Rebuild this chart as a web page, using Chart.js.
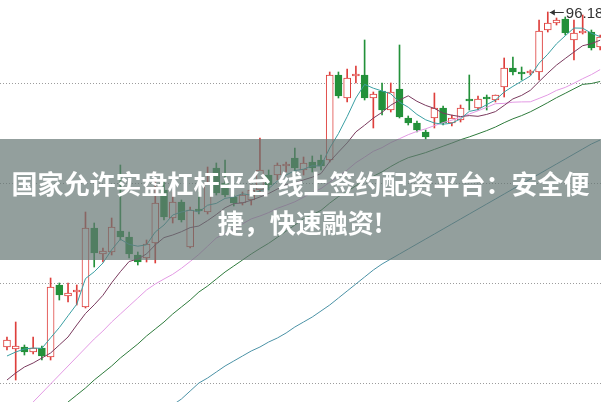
<!DOCTYPE html>
<html><head><meta charset="utf-8">
<script src="https://cdn.jsdelivr.net/npm/chart.js@4.4.0/dist/chart.umd.min.js"></script>
<style>
html,body{margin:0;padding:0;background:#fff;}
#wrap{position:relative;width:601px;height:402px;overflow:hidden;}
#c{position:absolute;left:0;top:0;}
#banner{position:absolute;left:0;top:139px;width:601px;height:121px;background:rgba(101,118,116,0.7);color:#fff;
font-family:"Noto Sans CJK SC","Noto Sans",sans-serif;font-weight:700;font-size:26px;line-height:39px;text-align:center;
box-sizing:border-box;padding-top:24px;white-space:nowrap;}
</style></head>
<body>
<div id="wrap">
<canvas id="c" width="601" height="402"></canvas>
<div id="banner"><div>国家允许实盘杠杆平台 线上签约配资平台：安全便</div><div>捷，快速融资!</div></div>
</div>
<script>
const OPEN=[62.68,62.48,62.68,62.18,62.58,61.68,68.88,67.78,68.18,66.68,
74.58,71.98,72.18,74.28,73.68,71.88,71.58,73.08,78.38,75.58,
77.18,72.68,76.48,76.18,80.58,79.08,77.68,77.08,77.38,78.38,
79.88,79.88,80.78,81.58,80.38,81.18,81.38,81.38,89.88,87.58,
89.78,89.88,87.58,88.28,86.38,88.48,85.58,85.08,84.18,85.58,
86.58,85.08,85.38,87.48,86.58,87.68,87.38,88.68,90.58,90.18,
90.08,90.18,94.38,95.08,95.48,93.38,94.08,94.18,92.68];
const HIGH=[63.68,65.18,62.88,63.68,62.78,69.58,69.08,69.08,68.88,76.18,
75.08,72.58,75.58,80.88,74.18,72.18,73.38,79.38,79.18,78.18,
77.38,76.68,78.18,80.68,81.08,81.38,77.88,78.18,78.88,83.58,
80.38,81.08,81.18,82.58,81.68,81.78,81.88,90.18,90.18,90.48,
90.78,93.38,88.18,89.08,89.08,92.88,85.78,85.28,84.38,88.08,
86.78,85.88,86.88,89.88,87.78,87.88,87.88,91.58,91.68,90.68,
90.38,95.38,96.18,95.58,95.68,95.38,95.88,94.38,93.88];
const LOW=[62.38,59.38,61.88,61.98,61.38,61.38,67.38,67.18,66.88,66.58,
70.68,71.18,71.88,73.38,71.58,70.88,71.18,71.08,75.38,75.08,
75.18,72.58,75.98,75.98,77.88,77.68,76.78,76.88,76.88,77.88,
78.38,79.38,80.18,80.18,79.88,80.18,80.38,81.18,87.58,87.18,
89.08,87.38,84.58,85.88,86.18,85.58,84.88,84.18,83.48,84.58,
84.88,84.78,85.18,86.38,86.38,86.38,87.18,87.68,89.88,89.38,
89.88,89.38,94.18,94.88,93.88,91.38,93.98,92.38,92.38];
const CLOSE=[63.38,62.78,62.18,62.58,61.78,68.68,67.88,68.08,68.38,74.58,
72.08,72.28,74.68,73.68,71.98,71.18,72.98,77.08,75.68,77.18,
75.38,76.38,76.28,79.08,78.08,77.88,77.08,77.88,78.38,80.38,
78.88,80.88,80.98,80.58,81.08,80.58,80.78,89.88,87.78,89.58,
89.98,87.58,87.98,86.38,88.18,85.68,85.08,84.38,83.68,86.58,
85.08,85.58,86.58,87.28,87.48,87.48,87.88,90.58,90.18,89.98,
90.28,94.28,95.08,95.38,94.08,94.08,94.28,92.58,93.68];
const MA5=[61.78,62.18,62.48,62.58,62.54,63.60,64.62,65.80,66.96,69.52,
70.20,71.08,72.40,73.46,72.94,72.76,72.90,74.18,74.88,75.88,
76.18,76.38,76.18,76.86,77.04,77.54,77.68,78.00,77.86,78.32,
78.52,79.28,79.88,80.32,80.46,80.80,80.78,82.58,84.02,85.72,
87.58,88.94,88.56,88.28,88.00,87.16,86.66,85.94,85.40,85.08,
84.96,85.06,85.50,86.24,86.42,86.92,87.38,88.18,88.74,89.26,
89.78,91.06,91.96,93.00,93.80,94.58,94.56,94.06,93.72];
const MA10=[59.38,60.08,60.68,61.08,61.58,62.08,62.88,63.68,64.88,66.03,
66.90,67.85,69.10,70.21,71.23,71.48,71.99,72.89,73.62,73.88,
74.21,74.62,74.78,75.32,75.93,76.60,77.01,77.09,77.36,77.68,
78.03,78.48,78.94,79.09,79.39,79.66,80.03,81.23,82.17,83.09,
84.19,84.86,85.57,86.15,86.86,87.37,87.80,87.25,86.84,86.54,
86.06,85.86,85.72,85.82,85.75,85.94,86.22,86.84,87.49,87.84,
88.35,89.22,90.07,90.87,91.53,92.18,92.81,93.01,93.36];
const MA20=[54.88,55.68,56.38,57.18,58.08,58.98,59.88,60.78,61.68,62.58,
63.48,64.28,65.18,65.98,66.78,67.58,68.38,68.98,69.48,69.95,
70.55,71.23,71.94,72.76,73.58,74.04,74.50,74.99,75.49,75.78,
76.12,76.55,76.86,77.20,77.66,78.13,78.52,79.16,79.76,80.38,
81.11,81.67,82.25,82.62,83.12,83.51,83.91,84.24,84.50,84.81,
85.12,85.36,85.64,85.98,86.30,86.65,87.01,87.04,87.16,87.19,
87.20,87.54,87.89,88.34,88.64,89.06,89.51,89.92,90.42];
const MA30=[51.88,52.78,53.58,54.28,54.98,55.68,56.38,57.18,57.88,58.58,
59.38,60.08,60.78,61.58,62.28,62.98,63.78,64.48,65.18,65.98,
66.68,67.38,68.18,68.78,69.48,70.18,70.78,71.38,71.98,72.53,
73.05,73.65,74.27,74.87,75.52,75.91,76.34,77.07,77.72,78.22,
78.81,79.32,79.76,80.19,80.73,81.21,81.61,81.86,82.12,82.44,
82.76,83.07,83.41,83.69,84.00,84.32,84.68,85.11,85.50,85.82,
86.20,86.65,87.12,87.61,88.05,88.50,88.94,89.03,89.23];
const MA60=[null,null,null,null,null,null,null,null,null,null,
null,null,null,null,null,null,54.78,55.48,56.18,56.88,
57.48,58.28,59.08,59.58,60.18,60.78,61.28,61.78,62.28,62.68,
63.18,63.58,64.08,64.68,65.18,65.68,66.28,66.88,67.58,68.28,
68.98,69.68,70.38,70.98,71.48,71.98,72.48,72.98,73.48,73.98,
74.48,74.98,75.48,75.98,76.48,76.98,77.48,77.98,78.48,78.98,
79.48,79.98,80.48,80.98,81.48,81.98,82.48,82.98,83.38];
const GRID_VALUES=[89.08,79.08,69.08,59.08];
const Y_MIN=57.18, Y_MAX=97.38;
const X_MIN=-0.8, X_MAX=68.1;
const PEAK_INDEX=62, PEAK_LABEL='96.18';

const UP='#de3f3c', DOWN='#23913a';
const isUp=i=>CLOSE[i]>=OPEN[i];
const pts=arr=>arr.map((v,i)=>({x:i,y:v}));

const peakLabel={id:'peakLabel',afterDraw(chart){
  const xs=chart.scales.x, ys=chart.scales.y, ctx=chart.ctx;
  const px=xs.getPixelForValue(PEAK_INDEX), py=Math.round(ys.getPixelForValue(HIGH[PEAK_INDEX]))+0.5;
  ctx.save();
  ctx.strokeStyle='#333';ctx.fillStyle='#333';ctx.lineWidth=1;
  ctx.beginPath();ctx.moveTo(px+2,py);ctx.lineTo(px+16,py);ctx.stroke();
  ctx.beginPath();ctx.moveTo(px+2,py);ctx.lineTo(px+7,py-3);ctx.lineTo(px+7,py+3);ctx.closePath();ctx.fill();
  ctx.font='15px "Liberation Sans", Arial, sans-serif';ctx.textBaseline='middle';ctx.textAlign='left';
  ctx.fillText(PEAK_LABEL,px+18,py+1);
  ctx.restore();
}};

const line=(data,color)=>({type:'line',data:pts(data),borderColor:color,borderWidth:1,pointRadius:0,tension:0,spanGaps:false});

new Chart(document.getElementById('c'),{
  type:'bar',
  data:{datasets:[
    line(MA5,'#3a9fa3'),
    line(MA10,'#7a3a5e'),
    line(MA20,'#e39ae4'),
    line(MA30,'#2e7b3c'),
    line(MA60,'#4b92a6'),
    {type:'bar',data:OPEN.map((o,i)=>({x:i,y:[o,CLOSE[i]]})),
     backgroundColor:OPEN.map((o,i)=>isUp(i)?'#ffffff':DOWN),
     borderColor:OPEN.map((o,i)=>isUp(i)?UP:DOWN),
     borderWidth:1,borderSkipped:false,barThickness:7,grouped:false},
    {type:'bar',data:LOW.map((l,i)=>({x:i,y:[l,HIGH[i]]})),
     backgroundColor:LOW.map((l,i)=>isUp(i)?UP:DOWN),
     borderWidth:0,barThickness:1,grouped:false}
  ]},
  options:{
    responsive:false,animation:false,events:[],
    layout:{padding:0},
    plugins:{legend:{display:false},tooltip:{enabled:false}},
    scales:{
      x:{type:'linear',min:X_MIN,max:X_MAX,display:false,offset:false},
      y:{type:'linear',min:Y_MIN,max:Y_MAX,
         afterBuildTicks:s=>{s.ticks=GRID_VALUES.map(v=>({value:v}));},
         afterFit:s=>{s.width=0;},
         ticks:{display:false},
         grid:{color:'#9c9c9c',lineWidth:1,drawTicks:false},
         border:{display:false,dash:[1,2]}}
    }
  },
  plugins:[peakLabel]
});
</script>
</body></html>
